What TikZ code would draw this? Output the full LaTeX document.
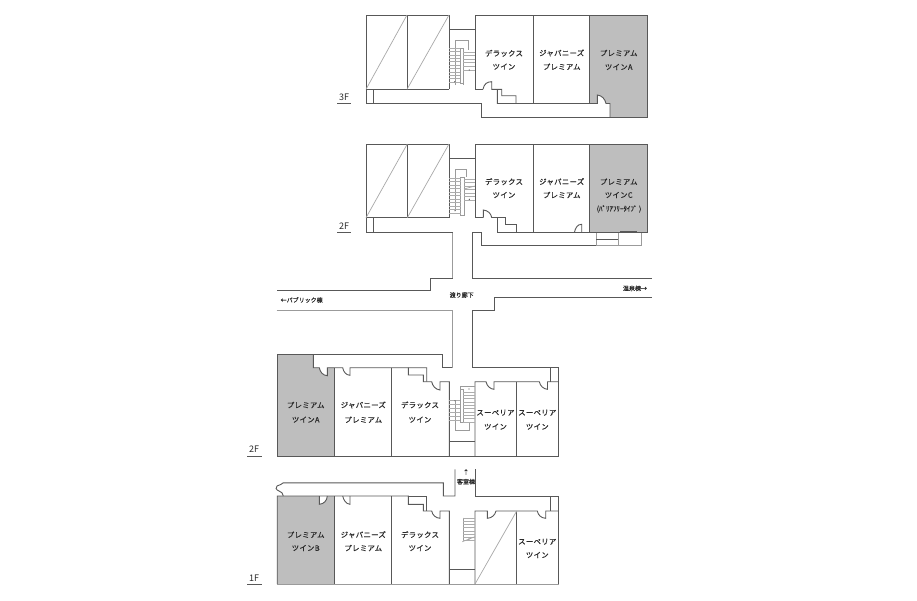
\documentclass[tikz,border=0pt]{standalone}
\usepackage{fontspec}
\newfontfamily\jp[LetterSpace=4,FakeBold=0.5]{Noto Sans CJK JP}
\newfontfamily\jptight[FakeBold=0.5]{Noto Sans CJK JP}
\newfontfamily\lat{Noto Sans CJK JP}
\definecolor{wallc}{HTML}{585858}
\definecolor{roomgrey}{HTML}{BEBEBE}
\definecolor{thinc}{HTML}{A8A8A8}
\definecolor{textc}{HTML}{2A2A2A}
\tikzset{
  wall/.style={draw=wallc,line width=0.9pt,line join=miter},
  thinwall/.style={draw=wallc!60,line width=0.7pt},
  diag/.style={draw=thinc,line width=0.7pt},
  tread/.style={draw=black!32,line width=0.4pt},
  grey/.style={fill=roomgrey,draw=none},
  room/.style={font=\jp\fontsize{7.4}{8}\selectfont,text=textc,inner sep=0pt},
  small/.style={font=\jptight\fontsize{6}{7}\selectfont,text=textc,inner sep=0pt},
  floorlbl/.style={font=\lat\fontsize{9}{10}\selectfont,text=textc,inner sep=0pt},
  mydot/.style={fill=wallc,draw=none,circle,inner sep=0pt,minimum size=1.3pt}
}
\begin{document}
\begin{tikzpicture}[x=1pt,y=-1pt]
\useasboundingbox (0,0) rectangle (917,600);
\fill[white] (0,0) rectangle (917,600);
% ---------- grey rooms
\fill[roomgrey] (590,15) -- (647,15) -- (647,117) -- (610,117) -- (610,103.5) -- (606,103.5) .. controls (605,99) and (602,95.5) .. (597.3,95) -- (597.3,103.5) -- (590,103.5) -- cycle;
\fill[roomgrey] (590,144) rectangle (647,232.7);
\fill[roomgrey] (277,354.3) -- (313.3,354.3) -- (313.3,367.7) -- (319.3,367.7) .. controls (320,372) and (323,375.5) .. (327.3,375.7) -- (327.3,367.7) -- (334.3,367.7) -- (334.3,456) -- (277,456) -- cycle;
\fill[roomgrey] (277,496) -- (319.3,496) -- (319.3,504.3) .. controls (324,504) and (327,500.5) .. (327.3,496) -- (334.3,496) -- (334.3,584) -- (277,584) -- cycle;
% ========== 3F upper
\draw[wall] (449,89.3) -- (366,89.3) -- (366,15) -- (449,15) -- (449,89.3);
\draw[wall] (407,15) -- (407,89.3);
\draw[diag] (366,89.3) -- (407,15);
\draw[diag] (407,89.3) -- (449,15);
\draw[wall] (366,89.3) -- (366,103.5) -- (481,103.5) -- (481,117.3) -- (647,117.3) -- (647,15) -- (475,15) -- (475,89.3) -- (483,89.3);
\draw[wall] (373.5,89.3) -- (373.5,103.5);
\draw[wall] (449,29) -- (475,29);
\draw[wall] (533.3,15) -- (533.3,103.5);
\draw[wall] (589.8,15) -- (589.8,103.5);
\draw[wall] (483,89.3) .. controls (484,84) and (487,81.7) .. (491.7,81.7) -- (491.7,89.3) -- (501.7,89.3) -- (501.7,95.7) -- (516,95.7) -- (516,103.5);
\draw[wall] (497.3,89.3) -- (497.3,103.5) -- (597.3,103.5) -- (597.3,95) .. controls (602,95.5) and (605,99) .. (606,103.5) -- (610,103.5) -- (610,117.3);
\draw[thinwall] (455,85) -- (455,40.7) -- (468.5,40.7) -- (468.5,50);
\draw[thinwall] (460,83.3) -- (460,48.3) -- (463.3,48.3) -- (463.3,83.3) -- cycle;
\draw[thinwall] (463.3,70) -- (463.3,85);
\foreach \y in {48,51.4,54.8,58.2,61.6,65,68.4,71.8,75.2,78.6,82}{\draw[tread] (449,\y) -- (460,\y);}
\foreach \y in {51.7,55.4,59,62.6,66.3,70}{\draw[tread] (463.3,\y) -- (475,\y);}
\node[mydot] (dotA) at (454.7,81.7) {};
\node[mydot] (dotB) at (469.3,70) {};
% ========== 2F upper
\draw[wall] (449,217.7) -- (366,217.7) -- (366,144) -- (449,144) -- (449,217.7);
\draw[wall] (407.3,144) -- (407.3,217.7);
\draw[diag] (366,217.7) -- (407.3,144);
\draw[diag] (407.3,217.7) -- (449,144);
\draw[wall] (366,217.7) -- (366,232.7) -- (452.7,232.7);
\draw[wall] (373.5,217.7) -- (373.5,232.7);
\draw[wall] (449,158.3) -- (475,158.3);
\draw[wall] (483.3,217.5) -- (475,217.5) -- (475,144) -- (647,144) -- (647,232.7) -- (497.3,232.7) -- (497.3,217.5) -- (505.7,217.5) -- (505.7,224.3) -- (516,224.3) -- (516,232.7);
\draw[wall] (533.3,144) -- (533.3,232.7);
\draw[wall] (589.8,144) -- (589.8,232.7);
\draw[wall] (483.3,217.5) -- (483.3,210) .. controls (488,210.5) and (491,213.5) .. (491.7,217.5) -- (497.3,217.5);
\draw[wall] (574.3,232.7) .. controls (575.5,227.5) and (577.5,224.3) .. (581.7,224.3) -- (581.7,232.7);
\draw[wall] (472.3,278.3) -- (472.3,232.7) -- (481,232.7) -- (481,245.7) -- (596,245.7);
\draw[thinwall] (596,245.7) -- (596,232.7);
\draw[thinwall] (596,245.7) -- (641.7,245.7) -- (641.7,232.7);
\draw[thinwall] (618.3,232.7) -- (618.3,245.7);
\draw[draw=wallc,line width=0.6pt] (596,239) -- (618.3,239);
\draw[draw=wallc,line width=1.1pt] (620,232) -- (637,232);
\draw[thinwall] (455,210.5) -- (455,169) -- (466,169) -- (466,177);
\draw[thinwall] (460.7,215) -- (460.7,177.3) -- (464,177.3) -- (464,215) -- cycle;
\foreach \y in {178,181.5,185,188.5,192,195.5,199,202.5,206,209.5,213}{\draw[tread] (449,\y) -- (460.7,\y);}
\foreach \y in {179,182.5,186,189.5,193,196.5,200}{\draw[tread] (464,\y) -- (475,\y);}
\draw[diag] (464,189) -- (475,186);
\node[mydot] (dotC) at (455,210.7) {};
\node[mydot] (dotD) at (469.3,199.3) {};
% ========== corridors
\draw[wall] (452.5,278.3) -- (430,278.3) -- (430,290.7) -- (276.7,290.7);
\draw[thinwall] (452.5,232.7) -- (452.5,278.3);
\draw[wall] (472.3,278.3) -- (651.7,278.3);
\draw[thinwall] (276.7,310) -- (452.3,310);
\draw[thinwall] (452.3,310) -- (452.3,367.5);
\draw[wall] (472,367.5) -- (472,310) -- (494.3,310) -- (494.3,297.7) -- (651.7,297.7);
% ========== lower 2F
\draw[wall] (277.2,354.3) -- (277.2,456) -- (558.7,456) -- (558.7,367.7) -- (472,367.7);
\draw[wall] (277.2,354.3) -- (442.7,354.3) -- (442.7,367.7) -- (452.3,367.7);
\draw[wall] (313.3,354.3) -- (313.3,367.7) -- (319.3,367.7) .. controls (320,372) and (323,375.5) .. (327.3,375.7) -- (327.3,367.7) -- (342.7,367.7) .. controls (343.5,372) and (346,375) .. (350,375.3) -- (350,367.7) -- (426.7,367.7) -- (426.7,381.7);
\draw[wall] (334.3,367.7) -- (334.3,456);
\draw[wall] (391,367.7) -- (391,456);
\draw[wall] (408.3,367.7) -- (408.3,375) -- (423.3,375) -- (423.3,381.7) -- (431.7,381.7) .. controls (432.5,386) and (435.5,389.5) .. (440,390) -- (440,381.7) -- (449.3,381.7) -- (449.3,456);
\draw[wall] (449.3,441) -- (475,441);
\draw[wall] (475,456) -- (475,381.7) -- (486,381.7) .. controls (487,386) and (490,389) .. (494,389.3) -- (494,381.7) -- (539.3,381.7) .. controls (540.3,386) and (543.3,389) .. (547.5,389.3) -- (547.5,381.7) -- (558.7,381.7);
\draw[wall] (516.7,381.7) -- (516.7,456);
\draw[wall] (550.3,367.7) -- (550.3,381.7);
\draw[thinwall] (475,386) -- (460,386) -- (460,389.3);
\draw[thinwall] (460,389.3) -- (463.3,389.3) -- (463.3,422.7) -- (460,422.7) -- cycle;
\draw[thinwall] (455,400) -- (455,430.7) -- (469.3,430.7) -- (469.3,421.7);
\foreach \y in {391.7,395,398.4,401.7,405,408.4,411.7,415,418.4,421.7}{\draw[tread] (463.3,\y) -- (475,\y);}
\foreach \y in {400,404,408,412,416,420}{\draw[tread] (449.3,\y) -- (460,\y);}
\node[mydot] (dotE) at (469,389) {};
\node[mydot] (dotF) at (455,400.7) {};
% ========== 1F
\draw[wall] (277.2,584) -- (277.2,496) -- (408.3,496) -- (408.3,504.3) -- (423.3,504.3) -- (423.3,511) -- (431.7,511) .. controls (432.5,515) and (435.5,518) .. (440,518.3) -- (440,511) -- (449.3,511) -- (449.3,584);
\draw[wall] (408.3,496) -- (426.7,496) -- (426.7,511);
\draw[wall] (283.3,496) .. controls (283,493) and (281.5,492) .. (279,491) .. controls (276,490) and (275,487) .. (277,486) .. controls (280,485) and (282,484) .. (283.3,482.8) -- (443.3,482.8) -- (443.3,496) -- (455,496) -- (455,469.3);
\draw[wall] (319.3,496) -- (319.3,504.3) .. controls (324,504) and (327,500.5) .. (327.3,496);
\draw[wall] (342.7,496) .. controls (343.5,500) and (346,504) .. (350,504.3) -- (350,496);
\draw[wall] (334.3,496) -- (334.3,584);
\draw[wall] (391,496) -- (391,584);
\draw[thinwall] (277.2,584) -- (558.7,584);
\draw[wall] (449.3,569.3) -- (475,569.3);
\draw[wall] (475,469.3) -- (475,496) -- (558.7,496) -- (558.7,584);
\draw[wall] (550.3,496) -- (550.3,511);
\draw[wall] (475,584) -- (475,511) -- (487.3,511) -- (487.3,518.3) .. controls (492,518) and (495,515) .. (496,511) -- (537.3,511) .. controls (538,515) and (541,518) .. (545.7,518.3) -- (545.7,511) -- (558.7,511);
\draw[wall] (516.7,511) -- (516.7,584);
\draw[diag] (475,584) -- (516.7,511);
\draw[thinwall] (463.3,517.7) -- (463.3,541);
\foreach \y in {517.7,521,524.3,527.6,531,534.3,537.6,540}{\draw[tread] (463.3,\y) -- (475,\y);}
\draw[diag] (462.3,541.7) -- (475,536.7);
\node[mydot] (dotG) at (469,539) {};
% ========== floor labels
\node[floorlbl] (f3) at (344,97.5) {3F};
\draw[wall] (337,103.5) -- (351,103.5);
\node[floorlbl] (f2a) at (344,226.5) {2F};
\draw[wall] (337,232.7) -- (351,232.7);
\node[floorlbl] (f2b) at (254,449.5) {2F};
\draw[wall] (247,456) -- (262,456);
\node[floorlbl] (f1) at (254,578) {1F};
\draw[wall] (247,584) -- (262,584);
% ========== room labels
\node[room] (a1) at (504,53.3) {デラックス};
\node[room] (a2) at (504,66.7) {ツイン};
\node[room] (b1) at (561.7,53) {ジャパニーズ};
\node[room] (b2) at (561.7,66.7) {プレミアム};
\node[room] (c1) at (618.7,53) {プレミアム};
\node[room] (c2) at (618.7,67) {ツインA};
\node[room] (d1) at (504,181.7) {デラックス};
\node[room] (d2) at (504,195) {ツイン};
\node[room] (e1) at (561.7,181.7) {ジャパニーズ};
\node[room] (e2) at (561.7,195) {プレミアム};
\node[room] (g1) at (618.7,181.7) {プレミアム};
\node[room] (g2) at (618.7,195) {ツインC};
\node[small,font=\jptight\fontsize{7}{8}\selectfont] (g3) at (619,209) {(ﾊﾞﾘｱﾌﾘｰﾀｲﾌﾟ )};
\node[small] (wat) at (461.7,295) {渡り廊下};
\node[small] (pub) at (301.7,300) {←パブリック棟};
\node[small] (ons) at (635,288.3) {温泉棟→};
\node[room] (h1) at (305.7,405) {プレミアム};
\node[room] (h2) at (305.7,419.7) {ツインA};
\node[room] (i1) at (363.3,405) {ジャパニーズ};
\node[room] (i2) at (363.3,419.7) {プレミアム};
\node[room] (j1) at (420,405) {デラックス};
\node[room] (j2) at (420,419.7) {ツイン};
\node[room] (k1) at (495.5,412.7) {スーペリア};
\node[room] (k2) at (495.5,426.7) {ツイン};
\node[room] (l1) at (537.3,412.7) {スーペリア};
\node[room] (l2) at (537.3,426.7) {ツイン};
\node[small] (arr) at (466,472) {↑};
\node[small] (kyk) at (466,481.7) {客室棟};
\node[room] (m1) at (305.7,534.7) {プレミアム};
\node[room] (m2) at (305.7,548) {ツインB};
\node[room] (n1) at (363.3,534.7) {ジャパニーズ};
\node[room] (n2) at (363.3,548) {プレミアム};
\node[room] (o1) at (420,534.7) {デラックス};
\node[room] (o2) at (420,548) {ツイン};
\node[room] (p1) at (537.3,541.7) {スーペリア};
\node[room] (p2) at (537.3,555) {ツイン};
\end{tikzpicture}
\end{document}
